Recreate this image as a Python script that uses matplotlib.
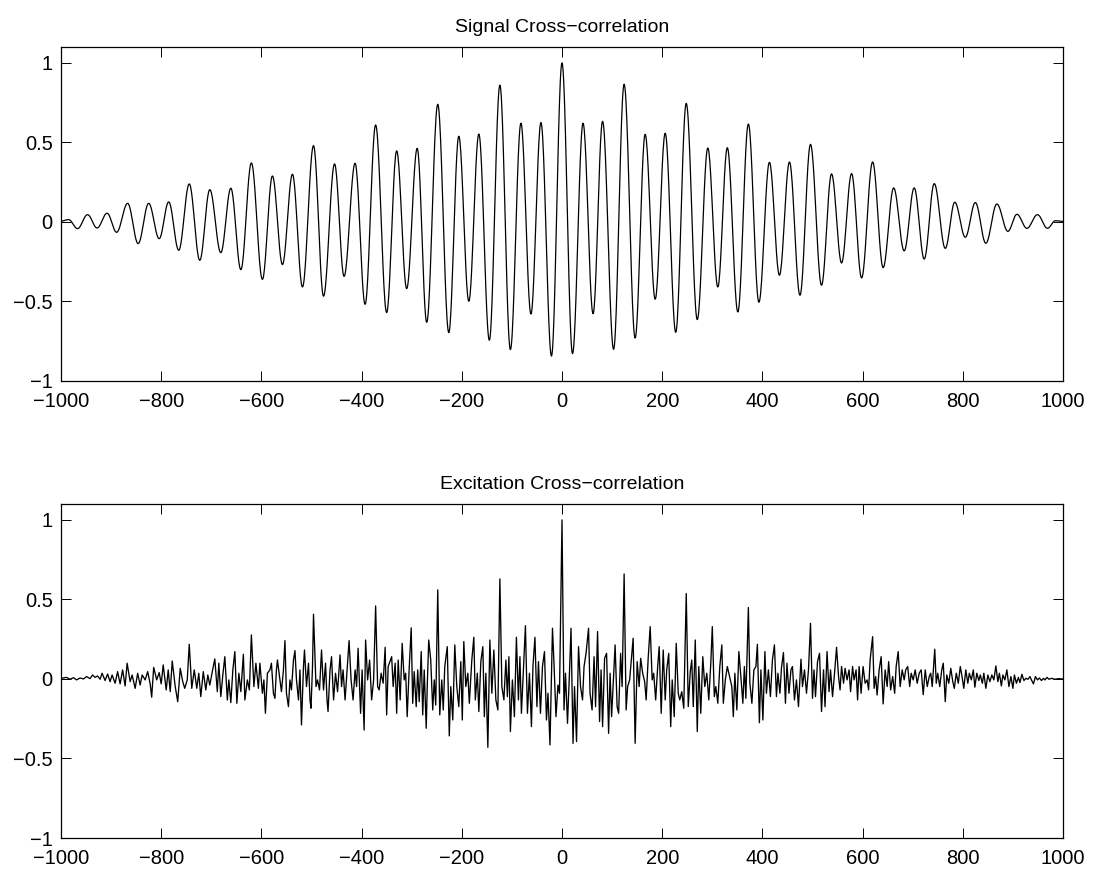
import numpy as np
import matplotlib
matplotlib.use("Agg")
import matplotlib.pyplot as plt

# ---------------- data ----------------
# Top panel: local extrema (lag, value) of the signal cross-correlation
sig_lags = [-1000, -985, -967, -947, -928, -908, -889, -867, -846, -825,
            -804, -785, -765, -744, -723, -703, -681, -661, -641, -620,
            -598, -578, -558, -538, -518, -496, -476, -454, -435, -413,
            -393, -372, -350, -330, -310, -289, -270, -248, -226, -206,
            -186, -166, -145, -124, -103, -82, -62, -42, -21, 0,
            21, 42, 62, 81, 103, 124, 146, 166, 186, 206,
            227, 248, 270, 291, 311, 330, 351, 372, 393, 414,
            434, 454, 475, 496, 518, 538, 558, 578, 598, 620,
            641, 662, 683, 703, 723, 743, 765, 784, 805, 825,
            846, 868, 890, 908, 928, 949, 969, 985, 1000]
sig_vals = [0.005, 0.015, -0.042, 0.046, -0.038, 0.055, -0.065, 0.117, -0.136, 0.117,
            -0.105, 0.126, -0.178, 0.239, -0.241, 0.203, -0.193, 0.212, -0.30, 0.371,
            -0.361, 0.289, -0.268, 0.30, -0.409, 0.48, -0.467, 0.365, -0.342, 0.369,
            -0.518, 0.61, -0.570, 0.447, -0.419, 0.463, -0.631, 0.740, -0.696, 0.539,
            -0.499, 0.553, -0.744, 0.860, -0.803, 0.621, -0.579, 0.625, -0.843, 1.0,
            -0.828, 0.621, -0.577, 0.633, -0.801, 0.866, -0.730, 0.551, -0.486, 0.558,
            -0.694, 0.746, -0.614, 0.465, -0.409, 0.467, -0.566, 0.616, -0.505, 0.375,
            -0.335, 0.377, -0.461, 0.488, -0.398, 0.302, -0.258, 0.304, -0.352, 0.377,
            -0.287, 0.214, -0.182, 0.214, -0.233, 0.241, -0.166, 0.124, -0.096, 0.122,
            -0.134, 0.113, -0.059, 0.048, -0.040, 0.046, -0.040, 0.008, 0.003]

# Bottom panel: excitation cross-correlation, turning points (lag, value)
exc_lags_a = [-1000, -999, -989, -982, -975, -969, -962, -955, -949, -942, -937,
              -932, -927, -922, -918, -912, -907, -902, -898, -892, -887,
              -882, -877, -872, -868, -862, -858, -852, -847, -842, -838,
              -832, -827, -822, -819, -815, -809, -804, -800, -796, -790,
              -786, -782, -778, -772, -767, -762, -757, -753, -748, -744,
              -739, -734, -729, -725, -721, -716, -711, -707, -703, -698,
              -693, -688, -685, -681, -677, -673, -668, -665, -661, -657,
              -653, -649, -645, -641, -636, -633, -628, -624, -620, -615,
              -611, -606, -603, -598, -595, -592, -588, -583, -580, -576,
              -573, -570, -568, -563, -560, -556, -553, -550, -546, -543,
              -540, -536, -533, -530, -526, -523, -520, -516, -514, -510,
              -506, -503, -501, -498, -496, -491, -488, -484, -480, -476,
              -472, -469, -467, -463, -460, -456, -452, -448, -443, -440,
              -437, -433, -429, -425, -421, -417, -413, -410, -407, -404,
              -402, -399, -395, -392, -388, -384, -380, -376, -372, -368,
              -365, -361, -357, -353, -350, -347]
exc_vals_a = [0.0, 0.004, 0.010, -0.002, 0.008, -0.006, 0.006, 0.0, 0.015, 0.002, 0.025,
              0.010, 0.019, -0.002, 0.036, -0.010, 0.031, -0.017, 0.025, -0.027, 0.046,
              -0.031, 0.057, -0.044, 0.099, -0.017, 0.025, -0.059, 0.036, -0.038, 0.025,
              -0.006, 0.046, -0.031, -0.115, 0.073, -0.006, 0.040, -0.031, 0.088, -0.069,
              0.057, -0.080, 0.113, -0.048, -0.143, 0.067, -0.017, -0.059, -0.006, 0.218,
              -0.059, 0.057, -0.059, 0.036, -0.111, 0.046, -0.069, 0.025, -0.038, 0.046,
              0.126, -0.080, 0.099, -0.111, 0.025, 0.140, -0.132, -0.006, -0.149, 0.057,
              0.172, -0.153, 0.036, -0.080, 0.155, -0.132, -0.006, -0.069, 0.277, -0.048,
              0.099, -0.059, 0.099, -0.090, -0.006, -0.216, 0.036, 0.057, 0.099, -0.090,
              -0.122, 0.057, 0.119, -0.006, -0.080, 0.057, 0.241, -0.090, -0.174, -0.006,
              -0.069, 0.119, 0.178, -0.006, -0.132, 0.057, -0.289, 0.078, 0.182, -0.048,
              0.099, -0.132, -0.184, 0.078, 0.407, -0.048, -0.006, -0.069, 0.182, -0.069,
              0.099, -0.132, -0.205, 0.057, 0.140, -0.132, 0.036, -0.080, 0.151, -0.048,
              0.057, -0.132, 0.057, 0.241, -0.006, -0.132, 0.057, -0.048, 0.193, -0.048,
              -0.216, 0.057, -0.321, 0.245, -0.006, 0.119, -0.132, -0.006, 0.459, -0.048,
              -0.069, 0.036, -0.027, 0.199, -0.226, 0.078]

exc_lags_b = [-340, -337, -333, -330, -327, -323, -319, -315, -312, -309,
              -305, -301, -298, -295, -291, -288, -285, -281, -278, -275,
              -271, -269, -266, -262, -258, -255, -252, -248, -244, -240,
              -237, -234, -229, -225, -222, -218, -214, -210, -206, -202,
              -199, -196, -192, -188, -185, -180, -176, -173, -169, -166,
              -162, -158, -155, -152, -148, -144, -140, -136, -132, -128,
              -124, -120, -116, -112, -109, -106, -103, -99, -95, -91,
              -87, -84, -81, -77, -73, -69, -65, -61, -58, -54,
              -50, -47, -43, -39, -35, -31, -28, -24, -19, -16,
              -12, -8, -5, 0, 4, 7, 11, 15, 18, 22,
              25, 29, 33, 37, 41, 44, 48, 53, 56, 60,
              64, 67, 71, 75, 78, 81, 85, 89, 93, 96,
              99, 103, 106, 110, 113, 117, 120, 124, 128, 131,
              135, 139, 142, 146, 150, 154, 157, 161, 165, 168,
              172, 176, 180, 183, 187, 191, 194, 198, 202, 206,
              209, 213, 217, 220, 224, 228, 232, 235, 239, 243,
              248, 252, 256, 259, 262, 266, 270, 273, 277, 281,
              285, 289, 293, 297, 300, 304, 307, 311, 315, 319,
              322, 326, 330]
exc_vals_b = [0.140, -0.048, 0.099, -0.216, 0.119, -0.132, 0.224, -0.006, 0.036, -0.237,
              0.067, 0.321, -0.153, 0.046, -0.174, 0.057, -0.143, 0.172, -0.226, 0.057,
              -0.310, -0.048, 0.245, 0.119, -0.195, -0.006, -0.164, 0.560, -0.226, -0.006,
              -0.195, 0.078, 0.203, -0.358, -0.048, -0.258, 0.214, -0.048, -0.174, 0.109,
              -0.258, 0.235, -0.048, 0.036, -0.153, 0.119, 0.262, -0.132, 0.036, -0.205,
              0.109, 0.203, -0.237, 0.036, -0.430, 0.245, -0.090, 0.182, -0.132, -0.195,
              0.629, -0.048, -0.132, 0.119, -0.111, 0.140, -0.331, -0.006, -0.237, 0.262,
              -0.132, 0.140, -0.216, 0.057, 0.335, -0.216, 0.036, -0.300, 0.078, 0.262,
              -0.174, 0.109, -0.216, 0.078, 0.172, -0.258, -0.090, -0.415, 0.319, 0.099,
              -0.237, -0.038, -0.090, 1.0, -0.195, 0.036, -0.279, 0.046, 0.319, -0.405,
              -0.048, -0.394, 0.203, -0.048, -0.132, 0.078, 0.161, 0.319, -0.090, -0.195,
              0.140, -0.174, 0.298, -0.268, 0.057, -0.300, 0.130, 0.161, -0.342, 0.036,
              -0.237, 0.015, 0.214, -0.174, -0.216, 0.161, -0.048, 0.660, -0.195, -0.048,
              -0.006, 0.140, 0.256, -0.405, 0.109, -0.048, 0.130, 0.036, -0.017, -0.132,
              0.130, 0.329, -0.006, 0.036, -0.132, 0.078, 0.203, -0.216, 0.182, -0.132,
              0.057, 0.161, -0.300, -0.006, -0.237, 0.224, -0.090, -0.132, -0.080, -0.184,
              0.537, -0.174, 0.046, 0.119, -0.174, 0.245, -0.331, 0.078, -0.216, 0.140,
              -0.048, 0.036, -0.132, 0.099, 0.329, -0.111, -0.048, -0.153, 0.078, 0.214,
              -0.153, -0.006, 0.078]

exc_lags_c = [339, 342, 345, 349, 353, 357, 361, 364, 367, 372,
              375, 379, 383, 387, 390, 394, 397, 401, 405, 408,
              412, 416, 420, 424, 428, 431, 435, 438, 442, 446,
              449, 453, 457, 460, 464, 468, 472, 477, 480, 484,
              488, 492, 496, 500, 503, 506, 510, 514, 518, 522,
              525, 529, 533, 536, 540, 544, 548, 552, 555, 558,
              562, 565, 569, 573, 576, 580, 583, 587, 590, 593,
              597, 601, 605, 609, 612, 615, 620, 623, 626, 629,
              633, 637, 641, 645, 649, 652, 656, 660, 664, 667,
              671, 675, 679, 683, 686, 690, 694, 697, 701, 705,
              709, 713, 717, 721, 725, 729, 733, 736, 739, 744,
              747, 750, 754, 758, 761, 765, 768, 772, 776, 780,
              783, 787, 791, 795, 799, 802, 806, 810, 813, 817,
              821, 824, 828, 832, 835, 839, 842, 846, 850, 854,
              858, 862, 866, 870, 873, 877, 880, 884, 888, 892,
              896, 900, 903, 907, 911, 914, 918, 922, 926, 930,
              934, 937, 941, 945, 949, 953, 957, 961, 964, 968,
              972, 977, 984, 991, 997, 1000]
exc_vals_c = [-0.048, -0.237, 0.036, -0.195, 0.172, 0.015, -0.153, 0.078, -0.122, 0.449,
              -0.027, -0.153, 0.057, 0.078, 0.218, -0.275, 0.057, -0.258, 0.172, -0.090,
              0.057, -0.111, 0.119, 0.214, -0.111, 0.036, -0.090, 0.067, 0.166, -0.153,
              0.099, -0.090, 0.057, 0.078, -0.132, -0.006, -0.174, 0.124, -0.048, 0.057,
              -0.090, 0.057, 0.350, -0.122, 0.057, -0.111, 0.109, 0.161, -0.205, 0.057,
              -0.174, 0.172, -0.080, 0.057, -0.111, 0.036, 0.199, 0.015, -0.069, 0.078,
              -0.027, 0.067, -0.006, 0.057, -0.080, 0.078, -0.006, 0.057, -0.132, 0.078,
              -0.090, 0.078, -0.027, -0.006, -0.069, 0.119, 0.266, -0.059, 0.015, -0.101,
              0.057, 0.140, -0.157, 0.057, -0.048, 0.109, -0.069, 0.015, -0.090, 0.078,
              0.172, -0.048, 0.057, -0.006, 0.057, 0.078, -0.048, 0.036, -0.006, 0.057,
              -0.027, 0.036, 0.057, -0.099, 0.057, -0.048, 0.015, 0.036, -0.048, 0.187,
              -0.027, 0.036, -0.048, 0.057, 0.099, -0.143, 0.025, -0.027, 0.067, -0.017,
              -0.059, 0.036, -0.027, 0.078, 0.004, -0.059, 0.057, -0.027, 0.036, -0.006,
              0.057, -0.052, 0.036, -0.010, 0.025, -0.027, 0.036, -0.059, 0.025, -0.017,
              0.025, -0.006, 0.082, -0.017, 0.036, -0.044, 0.025, -0.006, 0.057, -0.048,
              0.015, -0.059, 0.025, -0.027, 0.010, -0.023, 0.029, -0.010, 0.004, -0.002,
              0.015, -0.006, -0.031, 0.015, -0.006, 0.006, -0.010, 0.004, -0.006, 0.010,
              -0.002, 0.004, -0.002, 0.002, 0.0, 0.0]

titles = ["Signal Cross\u2212correlation", "Excitation Cross\u2212correlation"]
xticks = [-1000, -800, -600, -400, -200, 0, 200, 400, 600, 800, 1000]
yticks = [-1, -0.5, 0, 0.5, 1]
ytick_labels = ["\u22121", "\u22120.5", "0", "0.5", "1"]


def smooth_through_extrema(lags, vals, n=24):
    """Render a smooth oscillation passing through the read extrema."""
    xs, ys = [], []
    for i in range(len(lags) - 1):
        t = np.linspace(0, 1, n, endpoint=False)
        s = (1 - np.cos(np.pi * t)) / 2
        xs.append(lags[i] + (lags[i + 1] - lags[i]) * t)
        ys.append(vals[i] + (vals[i + 1] - vals[i]) * s)
    xs.append([lags[-1]])
    ys.append([vals[-1]])
    return np.concatenate(xs), np.concatenate(ys)


plt.rcParams['font.family'] = ['Liberation Sans', 'DejaVu Sans']

fig = plt.figure(figsize=(10.98, 8.73), dpi=100)
ax1 = fig.add_axes([61 / 1098, 1 - 381 / 873, 1002 / 1098, 334 / 873])
ax2 = fig.add_axes([61 / 1098, 1 - 838 / 873, 1002 / 1098, 334 / 873])

sx, sy = smooth_through_extrema(sig_lags, sig_vals)
ax1.plot(sx, sy, color='black', lw=0.9)

ex = exc_lags_a + exc_lags_b + exc_lags_c
ev = exc_vals_a + exc_vals_b + exc_vals_c
ax2.plot(ex, ev, color='black', lw=0.95)

for ax, title in zip([ax1, ax2], titles):
    ax.set_xlim(-1000, 1000)
    ax.set_ylim(-1, 1.1)
    ax.set_xticks(xticks)
    ax.set_xticklabels([str(t).replace('-', '\u2212') for t in xticks])
    ax.set_yticks(yticks)
    ax.set_yticklabels(ytick_labels)
    ax.tick_params(direction='in', length=7, width=0.7, top=True, right=True,
                   labelsize=14.5, pad=6, colors='black')
    ax.tick_params(axis='x', pad=8)
    for sp in ax.spines.values():
        sp.set_linewidth(0.9)
    ax.set_title(title, fontsize=14, pad=11)

fig.savefig("out.png", dpi=100)
